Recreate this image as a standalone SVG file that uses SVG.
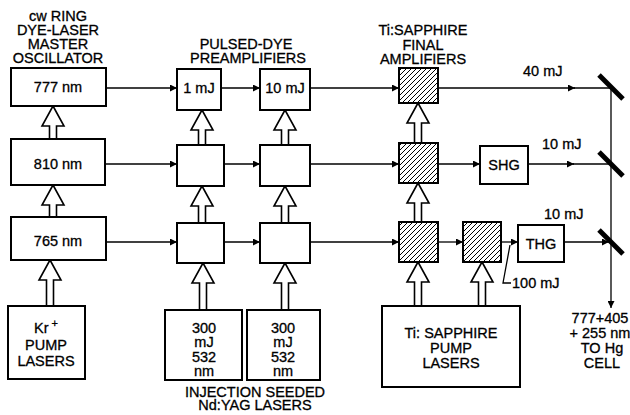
<svg xmlns="http://www.w3.org/2000/svg" width="630" height="415" viewBox="0 0 630 415">
<defs>
<style>
.box{fill:#fff;stroke:#000;stroke-width:2}
.hat{fill:url(#hatch);stroke:#000;stroke-width:2}
.ln{fill:none;stroke:#000;stroke-width:1.3}
.hol{fill:#fff;stroke:#000;stroke-width:1.6;stroke-linejoin:miter}
.mir{stroke:#000;stroke-width:5;stroke-linecap:butt}
text{font-family:"Liberation Sans",Arial,sans-serif;font-size:14.5px;fill:#000;stroke:#000;stroke-width:0.3;text-anchor:middle}
.st{text-anchor:start}
</style>
<pattern id="hatch" patternUnits="userSpaceOnUse" width="5" height="5">
<rect width="5" height="5" fill="#fff"/>
<path d="M-1,6 L6,-1 M-2,2 L2,-2 M3,7 L7,3" stroke="#000" stroke-width="1"/>
</pattern>
<marker id="ah" viewBox="0 0 10 10" refX="10" refY="5" markerWidth="9" markerHeight="7" markerUnits="userSpaceOnUse" orient="auto">
<path d="M0,0 L10,5 L0,10 z" fill="#000"/>
</marker>
</defs>

<g id="connectors">
<line class="ln" x1="106" y1="88" x2="177" y2="88" marker-end="url(#ah)"/>
<line class="ln" x1="221" y1="88" x2="260" y2="88" marker-end="url(#ah)"/>
<line class="ln" x1="310" y1="88" x2="399" y2="88" marker-end="url(#ah)"/>
<line class="ln" x1="438" y1="88" x2="575" y2="88" marker-end="url(#ah)"/>
<line class="ln" x1="574" y1="88" x2="611" y2="88"/>
<line class="ln" x1="105" y1="164" x2="177" y2="164" marker-end="url(#ah)"/>
<line class="ln" x1="224" y1="164" x2="260" y2="164" marker-end="url(#ah)"/>
<line class="ln" x1="310" y1="164" x2="399" y2="164" marker-end="url(#ah)"/>
<line class="ln" x1="438" y1="164" x2="480" y2="164" marker-end="url(#ah)"/>
<line class="ln" x1="528" y1="164" x2="574" y2="164" marker-end="url(#ah)"/>
<line class="ln" x1="573" y1="164" x2="611" y2="164"/>
<line class="ln" x1="106" y1="242" x2="177" y2="242" marker-end="url(#ah)"/>
<line class="ln" x1="224" y1="242" x2="260" y2="242" marker-end="url(#ah)"/>
<line class="ln" x1="310" y1="242" x2="399" y2="242" marker-end="url(#ah)"/>
<line class="ln" x1="438" y1="242" x2="463" y2="242" marker-end="url(#ah)"/>
<line class="ln" x1="501" y1="242" x2="518" y2="242" marker-end="url(#ah)"/>
<line class="ln" x1="564" y1="242" x2="609" y2="242" marker-end="url(#ah)"/>
<line class="ln" x1="611" y1="88" x2="611" y2="308" marker-end="url(#ah)"/>
<polyline class="ln" points="510,245 503,283 511,283"/>
<line class="mir" x1="599" y1="75" x2="623" y2="99"/>
<line class="mir" x1="599" y1="152" x2="623" y2="176"/>
<line class="mir" x1="599" y1="230" x2="623" y2="254"/>
<polygon class="hol" points="53,106 64,126 56.5,126 56.5,139 49.5,139 49.5,126 42,126"/>
<polygon class="hol" points="53,185 64,205 56.5,205 56.5,217 49.5,217 49.5,205 42,205"/>
<polygon class="hol" points="50,260 61,280 53.5,280 53.5,306 46.5,306 46.5,280 39,280"/>
<polygon class="hol" points="202,110 213,130 205.5,130 205.5,145 198.5,145 198.5,130 191,130"/>
<polygon class="hol" points="202,186 213,206 205.5,206 205.5,223 198.5,223 198.5,206 191,206"/>
<polygon class="hol" points="203,263 214,283 206.5,283 206.5,310 199.5,310 199.5,283 192,283"/>
<polygon class="hol" points="285,110 296,130 288.5,130 288.5,145 281.5,145 281.5,130 274,130"/>
<polygon class="hol" points="285,186 296,206 288.5,206 288.5,223 281.5,223 281.5,206 274,206"/>
<polygon class="hol" points="285,263 296,283 288.5,283 288.5,310 281.5,310 281.5,283 274,283"/>
<polygon class="hol" points="418,103 429,123 421.5,123 421.5,143 414.5,143 414.5,123 407,123"/>
<polygon class="hol" points="418,183 429,203 421.5,203 421.5,222 414.5,222 414.5,203 407,203"/>
<polygon class="hol" points="418,262 429,282 421.5,282 421.5,306 414.5,306 414.5,282 407,282"/>
<polygon class="hol" points="482,262 493,282 485.5,282 485.5,306 478.5,306 478.5,282 471,282"/>
</g>

<g id="osc-777"><rect class="box" x="11" y="68" width="95" height="38"/><text x="58" y="92">777 nm</text></g>
<g id="osc-810"><rect class="box" x="11" y="139" width="94" height="46"/><text x="58" y="169">810 nm</text></g>
<g id="osc-765"><rect class="box" x="11" y="217" width="95" height="43"/><text x="58" y="246">765 nm</text></g>
<g id="kr-pump"><rect class="box" x="8" y="306" width="77" height="73"/><text x="46" y="333">Kr<tspan dy="-6" font-size="11"> +</tspan></text><text x="46" y="350">PUMP</text><text x="46" y="366">LASERS</text></g>

<g id="pre-1a"><rect class="box" x="177" y="69" width="44" height="41"/><text x="199" y="93">1 mJ</text></g>
<g id="pre-1b"><rect class="box" x="260" y="69" width="50" height="41"/><text x="285" y="93">10 mJ</text></g>
<g id="pre-2a"><rect class="box" x="177" y="145" width="47" height="41"/></g>
<g id="pre-2b"><rect class="box" x="260" y="145" width="50" height="41"/></g>
<g id="pre-3a"><rect class="box" x="177" y="223" width="47" height="40"/></g>
<g id="pre-3b"><rect class="box" x="260" y="223" width="50" height="40"/></g>
<g id="yag-1"><rect class="box" x="165" y="310" width="77" height="70"/><text x="204" y="333">300</text><text x="204" y="347">mJ</text><text x="204" y="362">532</text><text x="204" y="376">nm</text></g>
<g id="yag-2"><rect class="box" x="247" y="310" width="73" height="70"/><text x="283" y="333">300</text><text x="283" y="347">mJ</text><text x="283" y="362">532</text><text x="283" y="376">nm</text></g>

<g id="ti-1"><rect class="hat" x="399" y="68" width="39" height="35"/></g>
<g id="ti-2"><rect class="hat" x="399" y="143" width="39" height="40"/></g>
<g id="ti-3"><rect class="hat" x="399" y="222" width="39" height="40"/></g>
<g id="ti-3b"><rect class="hat" x="463" y="222" width="38" height="40"/></g>
<g id="shg"><rect class="box" x="480" y="146" width="48" height="38"/><text x="504" y="170">SHG</text></g>
<g id="thg"><rect class="box" x="518" y="225" width="46" height="37"/><text x="541" y="249">THG</text></g>
<g id="ti-pump"><rect class="box" x="382" y="306" width="138" height="81"/><text x="451" y="338">Ti: SAPPHIRE</text><text x="451" y="353">PUMP</text><text x="451" y="368">LASERS</text></g>

<g id="labels">
<text x="58" y="21">cw RING</text>
<text x="58" y="35">DYE-LASER</text>
<text x="58" y="49">MASTER</text>
<text x="58" y="63">OSCILLATOR</text>
<text x="246" y="49">PULSED-DYE</text>
<text x="248" y="63">PREAMPLIFIERS</text>
<text x="423" y="35">Ti:SAPPHIRE</text>
<text x="423" y="50">FINAL</text>
<text x="423" y="64">AMPLIFIERS</text>
<text class="st" x="523" y="76">40 mJ</text>
<text class="st" x="542" y="149">10 mJ</text>
<text class="st" x="544" y="219">10 mJ</text>
<text class="st" x="512" y="288">100 mJ</text>
<text x="255" y="397">INJECTION SEEDED</text>
<text x="255" y="410">Nd:YAG LASERS</text>
<text x="600" y="323">777+405</text>
<text x="600" y="338">+ 255 nm</text>
<text x="602" y="353">TO Hg</text>
<text x="602" y="368">CELL</text>
</g>
</svg>
